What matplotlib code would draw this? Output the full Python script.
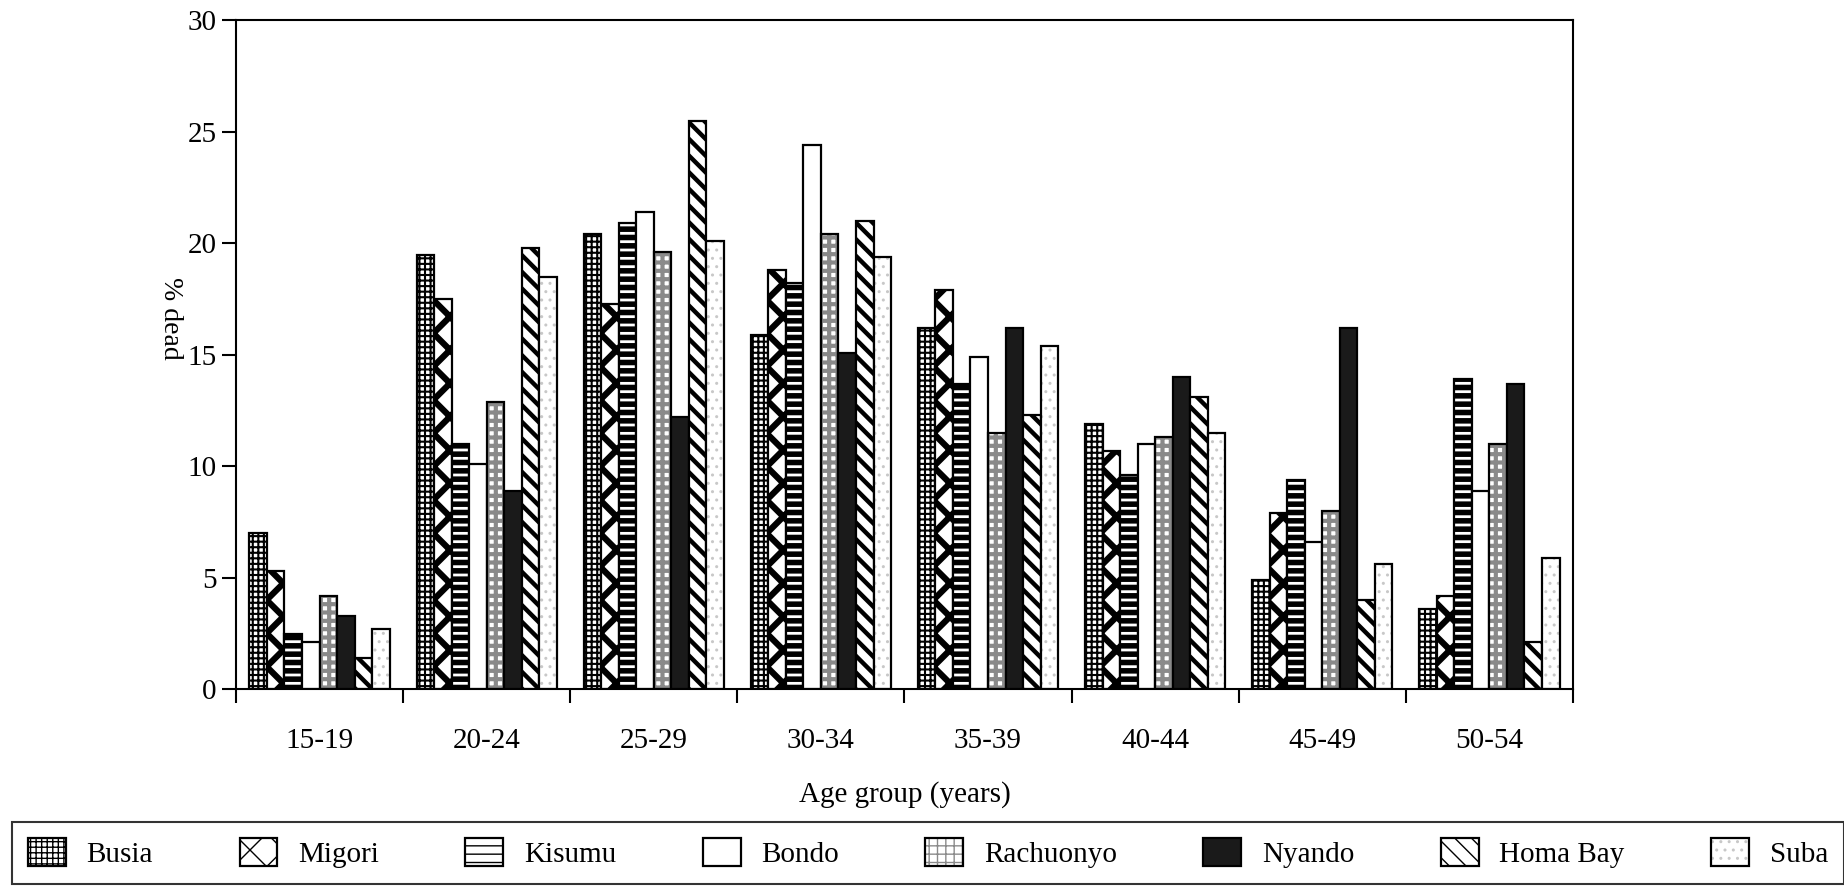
import numpy as np
import matplotlib.pyplot as plt
from matplotlib.patches import Patch

plt.rcParams['font.family'] = ['Liberation Serif', 'DejaVu Serif']

age_groups = ['15-19', '20-24', '25-29', '30-34', '35-39', '40-44', '45-49', '50-54']
districts = ['Busia', 'Migori', 'Kisumu', 'Bondo', 'Rachuonyo', 'Nyando', 'Homa Bay', 'Suba']

busia = [7.0, 19.5, 20.4, 15.9, 16.2, 11.9, 4.9, 3.6]
migori = [5.3, 17.5, 17.3, 18.8, 17.9, 10.7, 7.9, 4.2]
kisumu = [2.5, 11.0, 20.9, 18.2, 13.7, 9.6, 9.4, 13.9]
bondo = [2.1, 10.1, 21.4, 24.4, 14.9, 11.0, 6.6, 8.9]
rachuonyo = [4.2, 12.9, 19.6, 20.4, 11.5, 11.3, 8.0, 11.0]
nyando = [3.3, 8.9, 12.2, 15.1, 16.2, 14.0, 16.2, 13.7]
homa_bay = [1.4, 19.8, 25.5, 21.0, 12.3, 13.1, 4.0, 2.1]
suba = [2.7, 18.5, 20.1, 19.4, 15.4, 11.5, 5.6, 5.9]

series = [busia, migori, kisumu, bondo, rachuonyo, nyando, homa_bay, suba]

# face colour, hatch, hatch colour, hatch linewidth
styles = [
    ('white', '+++', 'black', 1.5),
    ('white', 'x', 'black', 4.5),
    ('white', '--', 'black', 4.0),
    ('white', '', 'black', 1.0),
    ('white', '++', '#8a8a8a', 3.0),
    ('#1a1a1a', '', 'black', 1.0),
    ('white', '\\\\', 'black', 3.2),
    ('white', '..', '#c8c8c8', 1.0),
]

fig = plt.figure(figsize=(18.44, 8.86), dpi=100)
ax = fig.add_axes([0.128, 0.222, 0.725, 0.755])

x = np.arange(len(age_groups))
n = len(series)
width = 0.105
handles = []
for i, (vals, (fc, hatch, hc, hlw)) in enumerate(zip(series, styles)):
    offs = x + (i - (n - 1) / 2) * width
    with plt.rc_context({'hatch.linewidth': hlw}):
        pat = ax.bar(offs, vals, width, color=fc, hatch=hatch, edgecolor=hc, linewidth=0)
        for p in pat:
            if hasattr(p, 'set_hatch_linewidth'):
                p.set_hatch_linewidth(hlw)
        ax.bar(offs, vals, width, fill=False, edgecolor='black', linewidth=1.6)
        h1 = Patch(facecolor=fc, hatch=hatch, edgecolor=hc, linewidth=0)
        if hasattr(h1, 'set_hatch_linewidth'):
            h1.set_hatch_linewidth(hlw)
    h2 = Patch(fill=False, edgecolor='black', linewidth=1.6)
    handles.append((h1, h2))

ax.set_xlim(-0.5, len(age_groups) - 0.5)
ax.set_ylim(0, 30)
ax.set_yticks(np.arange(0, 31, 5))
ax.set_xticks(x)
ax.set_xticklabels(age_groups)
ax.set_xticks(np.arange(-0.5, len(age_groups), 1), minor=True)
ax.tick_params(axis='x', which='major', length=0, pad=28, labelsize=21)
ax.tick_params(axis='x', which='minor', length=10, width=1.5, direction='out')
ax.tick_params(axis='y', length=10, width=1.5, direction='out', labelsize=21, pad=4)
for s in ax.spines.values():
    s.set_linewidth(1.5)

ax.set_xlabel('Age group (years)', fontsize=21, labelpad=19)
ax.set_ylabel('% dead', fontsize=20, rotation=270, va='center')
ax.yaxis.set_label_coords(-0.049, 0.555)

leg = fig.legend(handles, districts, ncol=8, mode='expand',
                 bbox_to_anchor=(0.0065, 0.002, 0.9935, 0.075), loc='lower left',
                 fontsize=21, frameon=True, fancybox=False, edgecolor='black',
                 handlelength=1.3, handleheight=1.1, handletextpad=0.7,
                 borderaxespad=0, borderpad=0.55, columnspacing=1.0)
leg.get_frame().set_linewidth(1.5)
leg._legend_box.align = 'left'

fig.savefig('out.png', dpi=100)
